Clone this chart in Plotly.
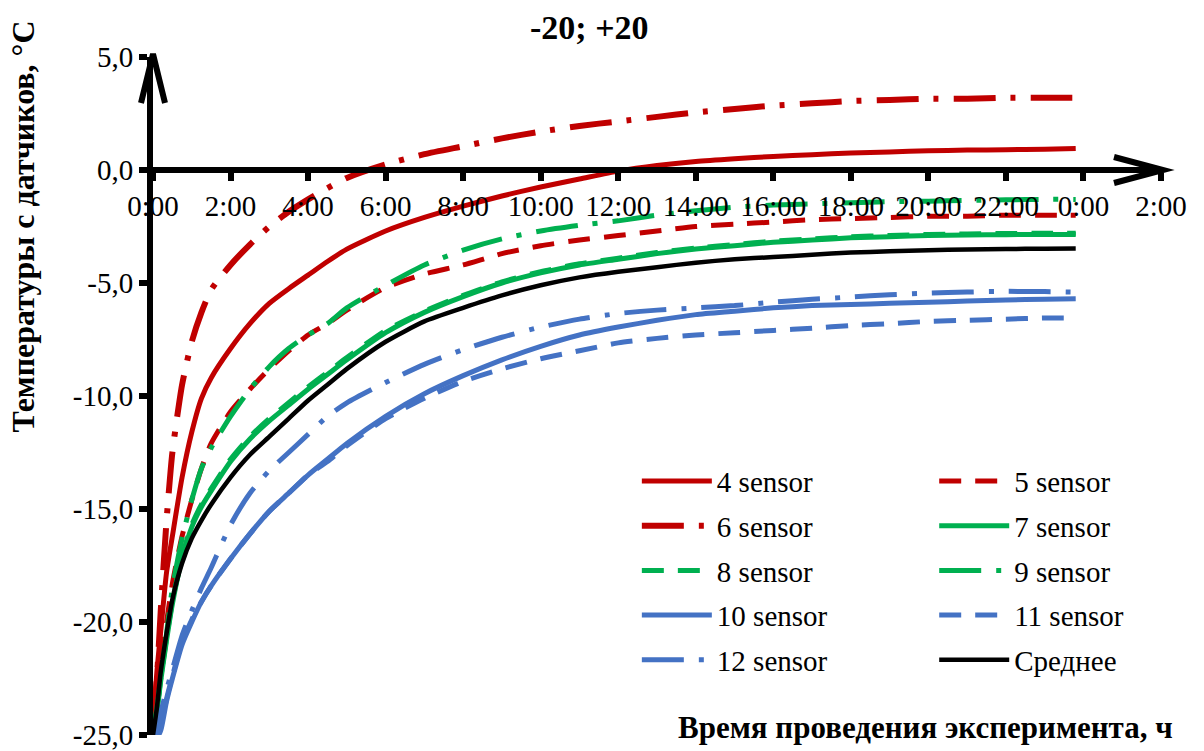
import plotly.graph_objects as go

# Time since start of the run, hours
HOURS = [0, 0.1, 0.2, 0.35, 0.5, 0.75, 1, 1.25, 1.5, 2, 2.5, 3, 3.5, 4, 4.5, 5,
         6, 7, 8, 9, 10, 11, 12, 13, 14, 15, 16, 17, 18, 19, 20, 21, 22, 23, 23.8]

# Sensor temperatures, °C
S4 = [-24.5, -22.2, -20.4, -17.8, -16.2, -13.6, -11.6, -10.1, -9.2, -7.9, -6.8, -5.9, -5.25, -4.65, -4.05, -3.5,
      -2.7, -2.1, -1.6, -1.15, -0.75, -0.4, -0.05, 0.2, 0.38, 0.5, 0.6, 0.68, 0.75, 0.8, 0.85, 0.88, 0.9, 0.92, 0.95]
S5 = [-24.8, -23.5, -22.0, -20.0, -18.3, -16.2, -14.6, -13.2, -12.1, -10.7, -9.7, -8.8, -8.0, -7.3, -6.8, -6.2,
      -5.2, -4.6, -4.2, -3.7, -3.35, -3.1, -2.9, -2.7, -2.5, -2.4, -2.3, -2.2, -2.15, -2.1, -2.05, -2.05, -2.0, -2.0, -2.0]
S6 = [-24.5, -22.5, -19.5, -15.5, -12.5, -9.5, -7.6, -6.3, -5.3, -4.2, -3.3, -2.5, -1.85, -1.3, -0.8, -0.35,
      0.25, 0.7, 1.05, 1.4, 1.7, 1.95, 2.15, 2.35, 2.55, 2.7, 2.85, 2.95, 3.05, 3.1, 3.15, 3.15, 3.2, 3.2, 3.2]
S7 = [-25.0, -24.0, -22.6, -20.8, -19.2, -17.2, -15.8, -14.9, -14.2, -12.9, -11.9, -11.1, -10.4, -9.7, -9.05, -8.4,
      -7.2, -6.3, -5.6, -5.0, -4.55, -4.2, -3.95, -3.7, -3.5, -3.35, -3.2, -3.1, -3.0, -2.95, -2.9, -2.88, -2.86, -2.85, -2.85]
S8 = [-25.0, -23.9, -22.5, -20.7, -19.1, -17.1, -15.7, -14.8, -14.1, -12.8, -11.8, -11.0, -10.3, -9.6, -8.95, -8.3,
      -7.1, -6.25, -5.55, -4.95, -4.5, -4.15, -3.9, -3.65, -3.45, -3.3, -3.15, -3.05, -2.95, -2.9, -2.85, -2.83, -2.81, -2.8, -2.8]
S9 = [-24.8, -23.8, -22.5, -20.5, -18.5, -16.3, -14.6, -13.2, -12.3, -10.9, -9.7, -8.7, -7.9, -7.3, -6.8, -6.1,
      -5.1, -4.2, -3.55, -3.05, -2.7, -2.45, -2.25, -2.0, -1.8, -1.65, -1.55, -1.5, -1.45, -1.4, -1.38, -1.35, -1.32, -1.3, -1.3]
S10 = [-25.2, -25.1, -24.8, -23.5, -22.5, -21.0, -20.0, -19.1, -18.4, -17.2, -16.1, -15.1, -14.3, -13.5, -12.8, -12.1,
       -10.9, -9.9, -9.1, -8.4, -7.8, -7.3, -6.95, -6.65, -6.4, -6.25, -6.1, -6.0, -5.95, -5.9, -5.85, -5.8, -5.75, -5.72, -5.7]
S11 = [-25.2, -25.0, -24.6, -23.4, -22.4, -20.9, -19.9, -19.1, -18.4, -17.2, -16.1, -15.1, -14.3, -13.5, -12.9, -12.2,
       -11.0, -10.1, -9.35, -8.8, -8.35, -8.0, -7.65, -7.45, -7.3, -7.2, -7.1, -7.0, -6.88, -6.8, -6.7, -6.65, -6.6, -6.55, -6.55]
S12 = [-25.2, -24.8, -24.0, -23.0, -22.1, -20.6, -19.5, -18.5, -17.6, -15.7, -14.3, -13.3, -12.5, -11.7, -10.9, -10.3,
       -9.4, -8.6, -7.95, -7.4, -6.95, -6.6, -6.35, -6.2, -6.1, -6.0, -5.85, -5.72, -5.62, -5.52, -5.45, -5.4, -5.37, -5.38, -5.4]
MEAN = [-25.0, -23.8, -22.2, -20.5, -19.0, -17.4, -16.3, -15.5, -14.8, -13.6, -12.6, -11.8, -11.0, -10.2, -9.5, -8.8,
        -7.6, -6.7, -6.1, -5.55, -5.1, -4.75, -4.5, -4.3, -4.1, -3.95, -3.85, -3.75, -3.65, -3.6, -3.55, -3.52, -3.5, -3.48, -3.47]

X_TICKS = [0, 2, 4, 6, 8, 10, 12, 14, 16, 18, 20, 22, 24, 26]
X_LABELS = ["0:00", "2:00", "4:00", "6:00", "8:00", "10:00", "12:00", "14:00",
            "16:00", "18:00", "20:00", "22:00", "0:00", "2:00"]
Y_TICKS = [5, 0, -5, -10, -15, -20, -25]
Y_LABELS = ["5,0", "0,0", "-5,0", "-10,0", "-15,0", "-20,0", "-25,0"]

RED = "#C00000"
GREEN = "#00B050"
BLUE = "#4472C4"
BLACK = "#000000"
DASH = "22px,14px"
DASHDOT = "42px,15px,5px,15px"
SERIF = "Liberation Serif"

# name, values, colour, dash, line width, legend column
SERIES = [
    ("4 sensor", S4, RED, "solid", 5, "legend"),
    ("5 sensor", S5, RED, DASH, 5, "legend2"),
    ("6 sensor", S6, RED, DASHDOT, 6, "legend"),
    ("7 sensor", S7, GREEN, "solid", 5, "legend2"),
    ("8 sensor", S8, GREEN, DASH, 5, "legend"),
    ("9 sensor", S9, GREEN, DASHDOT, 5, "legend2"),
    ("10 sensor", S10, BLUE, "solid", 5, "legend"),
    ("11 sensor", S11, BLUE, DASH, 5, "legend2"),
    ("12 sensor", S12, BLUE, DASHDOT, 5, "legend"),
    ("Среднее", MEAN, BLACK, "solid", 4.5, "legend2"),
]

fig = go.Figure()
for name, vals, color, dash, lw, leg in SERIES:
    fig.add_trace(go.Scatter(
        x=HOURS, y=vals, name=name, mode="lines", legend=leg, legendgroup=name,
        line=dict(color=color, width=lw, dash=dash, shape="spline", smoothing=0.6),
    ))

legend_style = dict(
    xanchor="left", yanchor="top", bgcolor="rgba(0,0,0,0)",
    font=dict(family=SERIF, size=29, color="black"),
    itemwidth=70, tracegroupgap=4, traceorder="grouped",
)

fig.update_layout(
    width=1204, height=751,
    margin=dict(l=153, r=43, t=57, b=16, autoexpand=False),
    paper_bgcolor="white", plot_bgcolor="white",
    font=dict(family=SERIF, size=28, color="black"),
    showlegend=True,
    legend=dict(x=0.480, y=0.412, **legend_style),
    legend2=dict(x=0.775, y=0.412, **legend_style),
    xaxis=dict(
        range=[0, 26], tickvals=X_TICKS, ticktext=X_LABELS,
        anchor="free", position=25 / 30,
        showline=True, linecolor="black", linewidth=6,
        ticks="outside", ticklen=8, tickwidth=6, tickcolor="black",
        showgrid=False, zeroline=False, automargin=False,
        ticklabeloverflow="allow",
        tickfont=dict(family=SERIF, size=29),
    ),
    yaxis=dict(
        range=[-25, 5], tickvals=Y_TICKS, ticktext=Y_LABELS,
        showline=True, linecolor="black", linewidth=6,
        ticks="outside", ticklen=8, tickwidth=6, tickcolor="black",
        showgrid=False, zeroline=False, automargin=False,
        ticklabeloverflow="allow",
        tickfont=dict(family=SERIF, size=29),
    ),
)

# Arrowheads at the ends of both axes
fig.add_shape(type="path", xref="paper", yref="paper", xsizemode="pixel", ysizemode="pixel",
              xanchor=0, yanchor=1, path="M-12,-46 L0,3 L12,-46",
              line=dict(color="black", width=6))
fig.add_shape(type="path", xref="paper", yref="paper", xsizemode="pixel", ysizemode="pixel",
              xanchor=1, yanchor=25 / 30, path="M-47,13 L2,0 L-47,-13",
              line=dict(color="black", width=6))

fig.add_annotation(text="<b>-20; +20</b>", xref="paper", yref="paper", x=0.4335, y=1.0435,
                   xanchor="center", yanchor="middle", showarrow=False,
                   font=dict(family=SERIF, size=34))
fig.add_annotation(text="<b>Температуры с датчиков, °С</b>", xref="paper", yref="paper",
                   x=-0.129, y=0.75, xanchor="center", yanchor="middle", textangle=-90,
                   showarrow=False, font=dict(family=SERIF, size=32))
fig.add_annotation(text="<b>Время проведения эксперимента, ч</b>", xref="paper", yref="paper",
                   x=0.766, y=0.011, xanchor="center", yanchor="middle", showarrow=False,
                   font=dict(family=SERIF, size=31))

fig.write_html("out.html")
